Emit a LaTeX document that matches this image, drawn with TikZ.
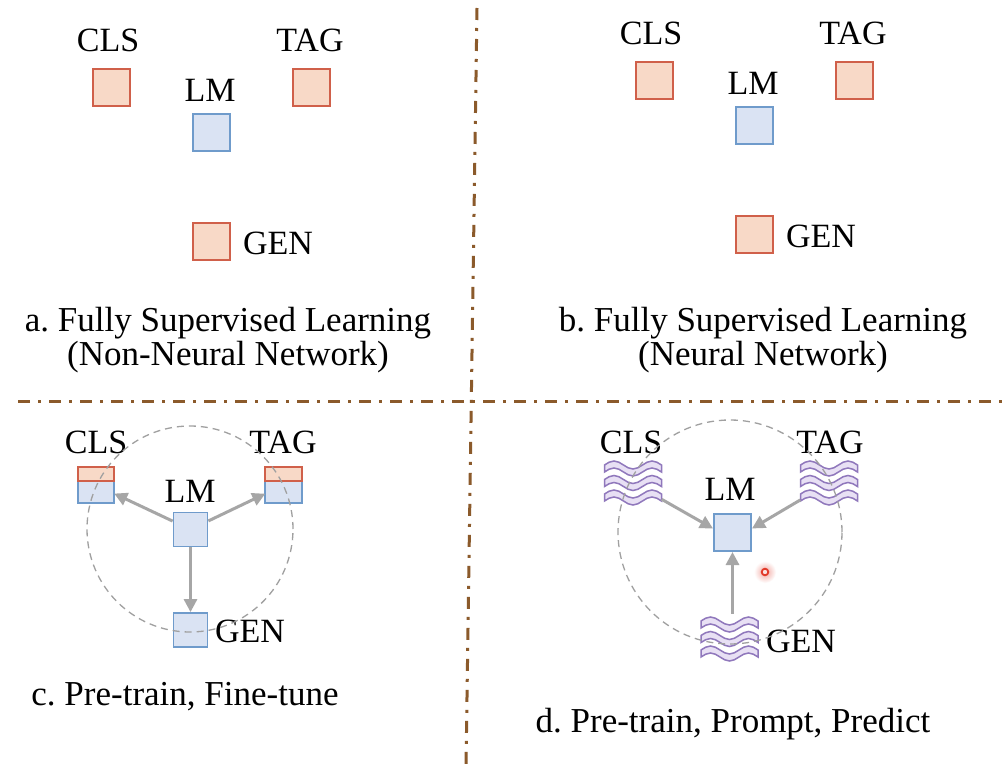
\documentclass[tikz,border=0pt]{standalone}
\usepackage{fontspec}
\setmainfont{Liberation Serif}
\usetikzlibrary{arrows.meta,calc}
\definecolor{boxO}{HTML}{F8D9C7}
\definecolor{boxOd}{HTML}{D0604A}
\definecolor{boxB}{HTML}{DAE3F3}
\definecolor{boxBd}{HTML}{6F9BCB}
\definecolor{arrcol}{HTML}{A6A6A6}
\definecolor{circcol}{HTML}{A0A0A0}
\definecolor{divcol}{HTML}{8B5A2B}
\definecolor{waveF}{HTML}{E8E0F4}
\definecolor{waveD}{HTML}{9078BC}
\definecolor{dotcol}{HTML}{E23A2A}
\newcommand{\wband}[1]{%
  \draw[waveline] (-28.5,#1-3.5) sin (-19,#1-7.5) cos (-9.5,#1-3.5) sin (0,#1+0.5)
    cos (9.5,#1-3.5) sin (19,#1-7.5) cos (28.5,#1-3.5) -- (28.5,#1+3.5)
    sin (19,#1-0.5) cos (9.5,#1+3.5) sin (0,#1+7.5) cos (-9.5,#1+3.5)
    sin (-19,#1-0.5) cos (-28.5,#1+3.5) -- cycle;}
\newcommand{\wstack}{\wband{-14.5}\wband{0}\wband{14.5}}
\begin{document}
\frenchspacing
\begin{tikzpicture}[x=1pt,y=-1pt,
  lbl/.style={font=\fontsize{34}{40}\selectfont, anchor=base, inner sep=0pt},
  captxt/.style={font=\fontsize{35}{40}\selectfont, anchor=base, inner sep=0pt},
  obox/.style={draw=boxOd, fill=boxO, line width=2pt, minimum size=37pt, inner sep=0pt},
  bbox/.style={draw=boxBd, fill=boxB, line width=2pt, minimum size=37pt, inner sep=0pt},
  sbox/.style={minimum size=36pt, inner sep=0pt},
  wbox/.style={minimum width=57pt, minimum height=44pt, inner sep=0pt},
  waveline/.style={draw=waveD, fill=waveF, line width=1.5pt},
  circdash/.style={draw=circcol, line width=1.3pt, dash pattern=on 7pt off 5pt},
  arrowst/.style={draw=arrcol, line width=3pt, -{Triangle[length=13pt,width=13pt]}},
  divider/.style={draw=divcol, line width=3pt, dash pattern=on 12pt off 8pt on 3pt off 8pt}]
\useasboundingbox[fill=white] (0,0) rectangle (1002,770);

% dividers
\coordinate (vtop) at (477,8);
\coordinate (vbot) at (466,766);
\coordinate (hleft) at (18,401);
\coordinate (hright) at (1002,401);
\draw[divider] (vtop) -- (vbot);
\draw[divider] (hleft) -- (hright);

% ---------- a ----------
\node[lbl] (aclsT) at (108,52) {CLS};
\node[obox] (acls) at (111,88) {};
\node[lbl] (atagT) at (310,52) {TAG};
\node[obox] (atag) at (311.5,88) {};
\node[lbl] (almT) at (210,102) {LM};
\node[bbox] (alm) at (211,132.5) {};
\node[obox] (agen) at (211,242) {};
\node[lbl] (agenT) at (278,255) {GEN};
\node[captxt] (acap1) at (228,331) {a. Fully Supervised Learning};
\node[captxt] (acap2) at (228,365) {(Non-Neural Network)};

% ---------- b ----------
\node[lbl] (bclsT) at (651,45) {CLS};
\node[obox] (bcls) at (654,81) {};
\node[lbl] (btagT) at (853,45) {TAG};
\node[obox] (btag) at (854.5,81) {};
\node[lbl] (blmT) at (753,95) {LM};
\node[bbox] (blm) at (754,125.5) {};
\node[obox] (bgen) at (754,235) {};
\node[lbl] (bgenT) at (821,248) {GEN};
\node[captxt] (bcap1) at (763,331) {b. Fully Supervised Learning};
\node[captxt] (bcap2) at (763,365) {(Neural Network)};

% ---------- c ----------
\node[lbl] (cclsT) at (96,453) {CLS};
\node[sbox] (ccls) at (96,485) {};
\path[fill=boxB, draw=boxBd, line width=1.8pt] ($(ccls.north west)+(0,14)$) rectangle (ccls.south east);
\path[fill=boxO, draw=boxOd, line width=1.8pt] (ccls.north west) rectangle ($(ccls.north east)+(0,14)$);
\node[lbl] (ctagT) at (283,453) {TAG};
\node[sbox] (ctag) at (283.5,485) {};
\path[fill=boxB, draw=boxBd, line width=1.8pt] ($(ctag.north west)+(0,14)$) rectangle (ctag.south east);
\path[fill=boxO, draw=boxOd, line width=1.8pt] (ctag.north west) rectangle ($(ctag.north east)+(0,14)$);
\node[lbl] (clmT) at (190,502) {LM};
\node[bbox, minimum size=34pt, line width=1.8pt] (clm) at (190.5,529.5) {};
\node[bbox, minimum size=34pt, line width=1.8pt] (cgen) at (190.5,630) {};
\node[lbl] (cgenT) at (250,642) {GEN};
\draw[circdash] (190,529) circle (103pt);
\draw[arrowst] (clm) -- (ccls);
\draw[arrowst] (clm) -- (ctag);
\draw[arrowst] (clm) -- (cgen);
\node[captxt] (ccap) at (185,705) {c. Pre-train, Fine-tune};

% ---------- d ----------
\node[lbl] (dclsT) at (631,453) {CLS};
\node[wbox] (dcls) at (633,483) {};
\begin{scope}[shift={(dcls.center)}]\wstack\end{scope}
\node[lbl] (dtagT) at (830,453) {TAG};
\node[wbox] (dtag) at (829,483) {};
\begin{scope}[shift={(dtag.center)}]\wstack\end{scope}
\node[lbl] (dlmT) at (730,500) {LM};
\node[bbox] (dlm) at (732.5,532.5) {};
\node[wbox] (dgen) at (729.5,639) {};
\begin{scope}[shift={(dgen.center)}]\wstack\end{scope}
\node[lbl] (dgenT) at (801,652) {GEN};
\draw[circdash] (730,532) circle (112pt);
\coordinate (dgenTop) at ($(dlm.south |- dgen.north)+(0,-3)$);
\draw[arrowst] (dcls) -- ([yshift=4pt]dlm.west);
\draw[arrowst] (dtag) -- ([yshift=4pt]dlm.east);
\draw[arrowst] (dgenTop) -- (dlm.south);
\node[captxt] (dcap) at (733,732) {d. Pre-train, Prompt, Predict};

% cursor dot
\shade[inner color=dotcol!45, outer color=white] (765,572) circle (11pt);
\draw[draw=dotcol, fill=dotcol!15, line width=1.8pt] (765,572) circle (3.3pt);
\end{tikzpicture}
\end{document}
